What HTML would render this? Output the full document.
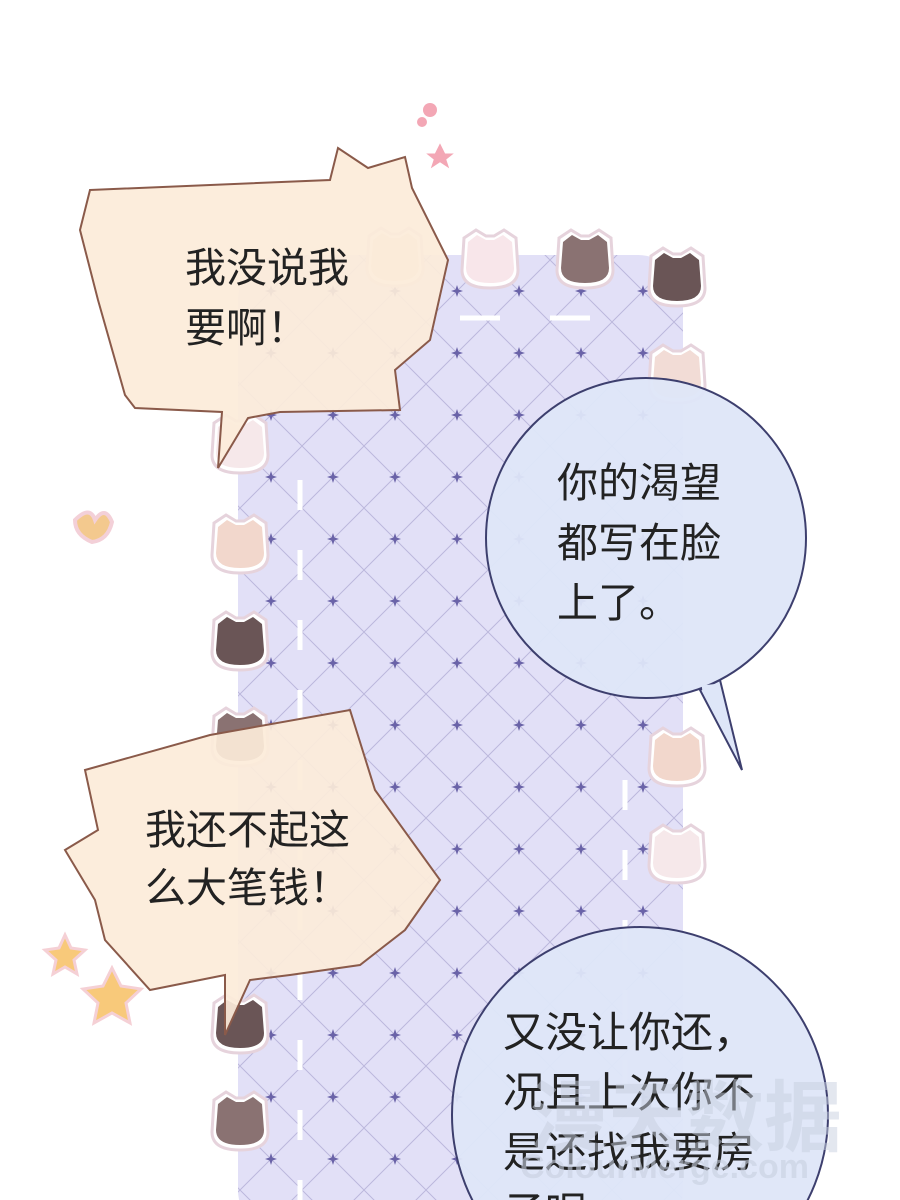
<!DOCTYPE html>
<html><head><meta charset="utf-8"><style>
html,body{margin:0;padding:0;background:#fff;width:900px;height:1200px;overflow:hidden}
svg{display:block}
text{font-family:"Liberation Sans","Noto Sans CJK SC",sans-serif;fill:#222}
</style></head><body>
<svg width="900" height="1200" viewBox="0 0 900 1200" xmlns="http://www.w3.org/2000/svg">
<defs>
<pattern id="grid" width="62" height="62" patternUnits="userSpaceOnUse" x="240" y="260">
<path d="M0 0 L62 62 M62 0 L0 62" stroke="#bcb8dc" stroke-width="1"/>
<path d="M31 25 L33 31 L31 37 L29 31Z M25 31 L31 29 L37 31 L31 33Z" fill="#6a63a8"/>
</pattern>
<g id="cat">
<path d="M-26 -22 L-14 -30 L-4 -24 L4 -24 L14 -30 L26 -22 L28 10 Q28 28 0 28 Q-28 28 -28 10Z" fill="#fff" stroke="#e6d3dc" stroke-width="3"/>
<path d="M-22 -18 L-13 -25 L-4 -20 L4 -20 L13 -25 L22 -18 L24 8 Q24 23 0 23 Q-24 23 -24 8Z" fill="var(--c)"/>
</g>
</defs>
<rect width="900" height="1200" fill="#fff"/>
<rect x="238" y="255" width="445" height="980" rx="45" fill="#e2e0f7"/>
<rect x="238" y="255" width="445" height="980" rx="45" fill="url(#grid)"/>
<path d="M300 480 V1200 M625 780 V1200" stroke="#fff" stroke-width="5" stroke-dasharray="30 40"/>
<path d="M460 318 H600" stroke="#fff" stroke-width="5" stroke-dasharray="40 50"/>
<g style="--c:#f6e8ea"><use href="#cat" x="240" y="445"/></g>
<g style="--c:#f2d7cc"><use href="#cat" x="240" y="545"/></g>
<g style="--c:#6a5556"><use href="#cat" x="240" y="642"/></g>
<g style="--c:#8a7272"><use href="#cat" x="240" y="738"/></g>
<g style="--c:#6a5556"><use href="#cat" x="240" y="1025"/></g>
<g style="--c:#8a7272"><use href="#cat" x="240" y="1122"/></g>
<g style="--c:#f3e2d6"><use href="#cat" x="395" y="258"/></g>
<g style="--c:#f8e6ea"><use href="#cat" x="490" y="260"/></g>
<g style="--c:#8a7272"><use href="#cat" x="585" y="260"/></g>
<g style="--c:#6a5556"><use href="#cat" x="677" y="278"/></g>
<g style="--c:#f2dcd6"><use href="#cat" x="677" y="375"/></g>
<g style="--c:#f2d7cc"><use href="#cat" x="677" y="758"/></g>
<g style="--c:#f6e8ea"><use href="#cat" x="677" y="855"/></g>
<path d="M75 520 Q90 505 95 520 Q105 505 112 522 Q108 540 92 542 Q75 535 75 520Z" fill="#f3c98e" stroke="#f3d0d8" stroke-width="4"/>
<path d="M440 140 L446 152 L458 152 L448 160 L452 172 L440 164 L428 172 L432 160 L422 152 L434 152Z" fill="#f3a7b5" stroke="#fff" stroke-width="3"/>
<circle cx="430" cy="110" r="7" fill="#f3a7b5"/><circle cx="422" cy="122" r="5" fill="#f3a7b5"/>
<path d="M65 935 L71 948 L85 950 L74 960 L77 974 L65 967 L53 974 L56 960 L45 950 L59 948Z" fill="#f8c97a" stroke="#f5d0d5" stroke-width="3"/>
<path d="M112 968 L121 986 L141 989 L126 1003 L130 1023 L112 1013 L94 1023 L98 1003 L83 989 L103 986Z" fill="#f8c97a" stroke="#f5d0d5" stroke-width="3"/>
<path d="M90 190 L330 180 L338 148 L368 168 L405 157 L412 188 L448 260 L430 340 L395 370 L400 410 L280 412 L248 418 L218 468 L222 412 L135 408 L125 395 L98 300 L80 230 Z" fill="#fcebd9" stroke="#8a5a4a" stroke-width="2" fill-opacity="0.92"/>
<text font-size="41" x="185" y="282">我没说我</text>
<text font-size="41" x="185" y="342">要啊！</text>
<path d="M720 680 L742 770 L700 690Z" fill="#dee6f8" stroke="#3d3f6e" stroke-width="2"/>
<circle cx="646" cy="538" r="160" fill="#dee6f8" stroke="#3d3f6e" stroke-width="2" fill-opacity="0.95"/>
<path d="M702 688 L720 686" stroke="#dee6f8" stroke-width="5"/>
<text font-size="41" x="557" y="497">你的渴望</text>
<text font-size="41" x="557" y="557">都写在脸</text>
<text font-size="41" x="557" y="617">上了。</text>
<path d="M85 770 L210 735 L350 710 L375 790 L440 880 L405 930 L360 965 L290 975 L250 980 L225 1035 L225 975 L150 990 L105 940 L95 900 L65 850 L98 830 Z" fill="#fcebd9" stroke="#8a5a4a" stroke-width="2" fill-opacity="0.92"/>
<text font-size="41" x="145" y="844">我还不起这</text>
<text font-size="41" x="145" y="902">么大笔钱！</text>
<circle cx="640" cy="1115" r="188" fill="#dee6f8" stroke="#3d3f6e" stroke-width="2" fill-opacity="0.95"/>
<text font-size="42" x="503" y="1047">又没让你还，</text>
<text font-size="42" x="503" y="1107">况且上次你不</text>
<text font-size="42" x="503" y="1167">是还找我要房</text>
<text font-size="42" x="503" y="1227">子呢</text>
<text font-size="78" x="530" y="1145" style="fill:#c8d0e0;opacity:0.5;font-weight:bold">漫天数据</text>
<text font-size="34" x="520" y="1178" style="fill:#c8d0e0;opacity:0.6;font-weight:bold">ColourMerge.com</text>
</svg>
</body></html>
